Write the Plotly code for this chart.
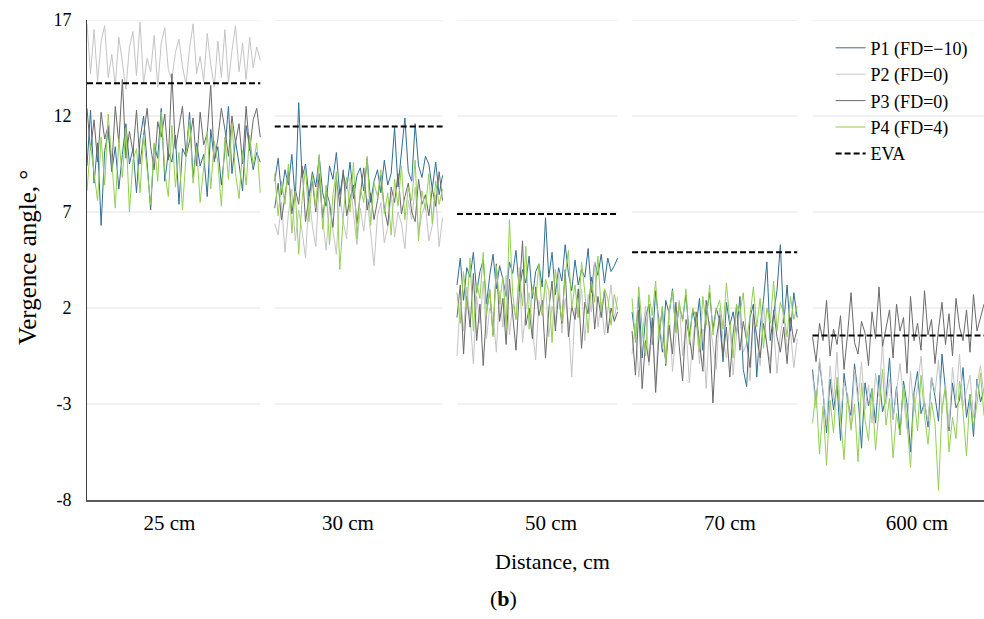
import plotly.graph_objects as go

categories = ["25 cm", "30 cm", "50 cm", "70 cm", "600 cm"]
y_ticks = [-8, -3, 2, 7, 12, 17]
y_tick_text = ["-8", "-3", "2", "7", "12", "17"]
eva = [13.7, 11.45, 6.9, 4.9, 0.57]

# P1 (FD=-10)
p1_25 = [9.4,12.3,8.5,10.6,6.3,10.2,11.2,9.1,10.4,8.2,10.0,11.6,9.5,10.3,8.0,10.8,12.0,9.3,7.1,10.5,9.8,12.4,8.6,10.1,9.6,11.0,7.4,10.3,9.9,12.2,8.8,10.6,9.4,10.0,7.8,11.3,9.7,10.4,8.4,10.2,12.5,9.0,10.7,9.5,8.1,11.5,10.3,9.2,10.1,9.6]
p1_30 = [8.6,9.8,7.9,9.2,8.4,10.0,7.6,12.7,8.8,9.5,7.8,9.1,8.3,9.9,8.0,7.3,9.4,8.7,10.1,7.9,9.0,8.2,9.6,7.7,8.9,9.3,8.1,9.8,7.5,8.6,9.2,8.0,9.7,8.4,9.0,11.4,8.3,10.0,11.9,9.1,8.6,11.6,9.4,8.8,9.9,9.5,8.2,9.6,7.9,8.9]
p1_50 = [3.2,4.6,2.4,4.1,3.6,4.9,2.8,3.9,4.5,2.2,3.7,4.8,3.0,4.2,3.5,2.6,4.4,3.8,5.0,2.9,4.0,3.3,4.7,2.5,3.9,4.3,3.1,6.7,3.6,4.9,2.7,4.1,3.4,5.3,3.8,2.9,4.5,3.2,4.0,3.6,5.1,2.8,4.4,3.7,4.8,3.3,4.6,3.9,4.2,4.6]
p1_70 = [1.8,0.4,2.6,-0.6,1.5,2.2,0.1,2.9,1.2,-0.3,2.4,1.7,3.0,0.8,2.1,1.4,2.7,0.5,1.9,1.0,2.5,-0.2,1.6,2.8,0.9,2.0,1.3,-0.8,2.3,1.1,1.8,0.6,2.6,-1.2,-2.1,1.5,2.2,-1.6,1.0,2.4,4.4,0.3,1.7,2.9,5.3,1.2,3.2,0.7,2.8,1.5]
p1_600 = [-1.2,-3.0,-0.8,-2.4,-4.5,-1.7,-3.3,-2.0,-4.9,-1.4,-2.8,-3.6,-0.9,-2.5,-5.3,-1.9,-3.1,-2.2,-4.0,-1.5,-3.4,-2.7,-0.6,-3.8,-2.1,-4.6,-1.8,-3.0,-5.5,-2.4,-1.3,-3.5,-2.9,-4.2,-1.6,-2.6,-3.9,-0.4,-2.3,-4.4,-1.9,-3.2,-2.8,-1.1,-3.7,-2.5,-4.7,-1.7,-2.9,-2.2]

# P2 (FD=0)
p2_25 = [16.8,14.2,16.5,13.8,15.9,16.7,14.0,15.2,13.6,16.1,14.8,13.4,15.6,16.4,14.1,16.9,13.7,15.0,14.3,16.2,13.5,15.8,16.6,14.4,13.9,15.3,16.0,14.6,13.6,15.5,16.8,14.2,15.1,13.8,16.3,14.7,13.5,15.9,14.0,16.5,13.7,15.4,16.7,14.3,15.8,13.9,16.1,14.5,15.6,14.9]
p2_30 = [6.4,5.8,7.5,4.9,6.9,8.2,5.5,7.1,6.0,4.6,7.8,6.3,5.2,8.5,6.7,5.0,7.3,6.1,4.8,7.9,6.5,5.6,8.8,6.9,5.3,7.2,6.0,7.7,5.9,4.2,6.8,7.5,5.4,6.2,8.0,5.7,7.0,6.4,5.1,7.6,6.6,8.3,5.8,6.9,7.4,5.5,6.3,7.9,5.2,6.7]
p2_50 = [-0.5,2.3,0.8,3.1,1.5,-0.9,2.6,1.2,3.4,0.4,2.0,1.7,-0.3,2.9,1.0,3.7,0.6,2.2,1.4,4.1,0.2,1.9,2.8,0.9,-0.7,2.4,1.6,3.3,0.5,2.1,1.1,3.9,0.7,2.5,1.3,-1.6,2.0,1.5,3.0,0.3,2.7,1.8,4.4,1.0,2.3,0.6,1.9,3.2,1.4,2.6]
p2_70 = [-0.4,1.2,-1.6,0.5,2.1,-1.0,0.8,-2.0,1.5,0.0,-0.7,1.9,-1.3,0.6,2.4,-0.5,1.0,-1.9,0.3,1.6,-0.9,0.9,-2.2,1.3,0.1,-1.2,2.0,0.4,-0.6,1.1,-1.5,0.7,1.8,-0.3,0.2,-1.8,1.4,0.5,-1.0,2.2,0.0,-0.8,1.0,-1.4,0.6,1.7,-0.2,0.8,-1.1,0.4]
p2_600 = [-1.5,-3.2,-0.6,-2.4,-4.1,-1.0,-2.8,-0.3,-3.6,-1.9,-2.5,-4.4,-1.2,-2.9,-0.8,-3.3,-2.0,-4.0,-1.4,-2.6,0.2,-3.0,-1.7,-3.8,-2.2,-0.9,-2.7,-4.3,-1.3,-3.4,-2.1,-0.5,-2.9,-3.9,-1.6,-2.4,-0.7,-3.5,-1.9,-4.2,-1.1,-2.8,-0.4,-3.1,-2.3,-1.5,-3.7,-2.0,-1.0,-2.6]

# P3 (FD=0)
p3_25 = [12.4,10.2,11.8,9.6,12.2,10.8,11.5,9.3,12.5,10.6,13.9,9.8,11.2,10.1,12.3,9.5,11.0,12.4,10.4,9.2,11.7,10.9,12.1,9.7,14.2,10.3,11.4,12.5,9.9,10.7,11.9,9.4,12.2,10.5,11.1,13.6,9.6,10.8,12.4,11.3,9.9,12.0,10.6,11.6,9.5,12.5,10.2,11.8,12.4,10.9]
p3_30 = [7.2,8.5,6.6,7.9,9.1,6.9,8.2,7.4,9.4,6.5,7.8,8.6,7.0,9.0,6.7,8.1,7.5,6.2,8.8,7.3,9.2,6.8,7.7,8.4,6.4,7.9,9.3,7.1,8.0,6.6,7.6,8.9,7.2,6.3,8.3,7.5,9.0,6.9,7.8,8.5,7.0,6.5,8.7,7.4,7.9,6.8,8.2,7.3,9.1,7.6]
p3_50 = [1.5,3.2,-0.4,2.6,1.0,3.8,0.3,2.2,-1.0,1.8,2.9,0.6,4.3,1.3,2.5,0.1,3.5,1.7,-0.2,2.8,5.5,1.1,2.0,0.4,3.1,1.6,2.4,-0.6,1.9,3.4,0.8,2.7,1.2,4.0,0.5,2.1,1.4,3.0,-0.1,2.3,1.7,3.6,0.9,2.6,1.5,2.9,0.7,2.0,1.3,1.8]
p3_70 = [0.8,-1.5,1.9,-2.2,0.3,-0.8,1.5,-2.4,0.6,2.0,-1.0,1.1,-0.4,2.3,0.0,-1.8,1.4,0.5,-0.7,1.8,0.2,-1.3,2.4,0.9,-2.95,0.4,1.6,-0.5,1.0,-1.6,0.7,2.1,-0.2,1.3,0.3,-1.1,1.7,0.6,-0.6,1.2,0.1,-1.4,1.9,0.5,-0.3,1.0,-0.9,1.5,0.2,0.9]
p3_600 = [0.5,-0.8,1.2,0.3,2.4,-0.5,0.9,0.1,1.6,-1.2,0.6,2.8,0.2,-0.4,1.3,0.7,-1.0,1.8,0.4,3.1,0.0,1.0,1.9,-0.6,2.2,0.8,1.5,-1.4,2.6,0.3,1.2,-0.2,2.9,0.6,1.4,-0.9,0.9,2.3,0.1,1.7,-0.5,2.5,1.0,0.3,1.9,-0.3,2.7,0.8,1.5,2.2]

# P4 (FD=4)
p4_25 = [8.1,10.5,9.0,7.6,10.9,8.4,12.1,9.5,7.2,10.8,8.8,11.4,7.0,9.7,10.3,8.0,11.0,9.2,7.4,10.6,8.6,12.2,9.1,7.8,11.5,8.3,10.1,7.1,9.9,11.8,8.5,10.4,7.5,9.3,11.2,8.2,10.7,9.6,7.3,10.9,8.7,11.6,9.0,7.7,10.2,8.4,11.0,9.4,10.6,8.0]
p4_30 = [9.0,6.8,8.6,7.4,9.5,5.9,8.1,4.8,7.7,9.3,6.5,8.9,7.2,10.0,6.1,8.4,5.3,7.9,9.1,4.0,6.7,8.8,7.0,9.6,5.6,8.2,7.5,9.9,6.3,8.5,7.8,9.2,6.9,8.0,5.8,8.7,7.3,9.4,6.6,8.3,7.6,9.7,5.5,8.1,7.1,9.0,6.4,8.6,7.4,8.2]
p4_50 = [2.8,1.2,3.9,2.0,4.6,0.8,3.3,2.5,4.9,1.6,3.0,0.5,4.2,2.2,3.6,1.0,6.6,2.7,1.4,3.8,2.1,5.2,0.9,3.1,2.4,4.3,1.7,3.5,2.9,0.2,4.0,2.6,1.3,3.7,5.0,2.0,3.2,1.5,4.4,2.8,0.7,3.4,2.3,4.7,1.8,3.0,2.5,1.1,2.7,1.9]
p4_70 = [2.5,0.2,3.1,1.0,-0.5,2.7,1.6,3.4,0.4,2.1,-0.9,1.8,2.9,0.7,2.3,1.3,3.0,0.1,2.0,1.5,-0.3,2.6,1.1,3.2,0.6,1.9,2.4,0.9,3.3,1.4,-0.6,2.2,1.7,2.8,0.3,1.6,3.1,1.0,2.5,-0.1,2.0,1.2,3.4,0.8,2.3,1.7,0.5,2.6,1.4,2.1]
p4_600 = [-4.0,-2.3,-5.6,-3.1,-6.2,-2.8,-4.5,-1.6,-3.7,-5.9,-2.5,-4.3,-3.0,-6.0,-1.9,-3.8,-4.9,-2.2,-5.4,-3.3,-1.2,-4.1,-2.7,-5.8,-3.5,-4.6,-2.0,-3.9,-6.3,-2.6,-4.4,-1.5,-3.6,-5.1,-2.9,-4.0,-7.5,-3.2,-2.1,-5.5,-3.7,-4.8,-1.8,-3.4,-5.7,-2.5,-4.2,-3.0,-1.4,-3.6]

series = [
    ("P1 (FD=\u221210)", [p1_25, p1_30, p1_50, p1_70, p1_600], "#2f6f94"),
    ("P2 (FD=0)", [p2_25, p2_30, p2_50, p2_70, p2_600], "#c4c4c4"),
    ("P3 (FD=0)", [p3_25, p3_30, p3_50, p3_70, p3_600], "#6a6a6a"),
    ("P4 (FD=4)", [p4_25, p4_30, p4_50, p4_70, p4_600], "#92d050"),
]

# layout: extent of each distance block along the x axis, and label spots
SEG_START = [0.0, 1.04, 2.05, 3.02, 4.02]
SEG_END = [0.96, 1.97, 2.94, 3.935, 4.97]
LABEL_POS = [0.457, 1.446, 2.571, 3.562, 4.598]
FONT = "Liberation Serif, Times New Roman, serif"


def build(segments):
    xs, ys = [], []
    for k, seg in enumerate(segments):
        n = len(seg)
        a, b = SEG_START[k], SEG_END[k]
        for i, v in enumerate(seg):
            xs.append(a + (b - a) * i / (n - 1))
            ys.append(v)
        xs.append(None)
        ys.append(None)
    return xs, ys


fig = go.Figure()
for name, segs, color in series:
    xs, ys = build(segs)
    fig.add_trace(go.Scatter(x=xs, y=ys, mode="lines", name=name,
                             line=dict(color=color, width=1)))

ex, ey = [], []
for k, v in enumerate(eva):
    ex += [SEG_START[k], SEG_END[k], None]
    ey += [v, v, None]
fig.add_trace(go.Scatter(x=ex, y=ey, mode="lines", name="EVA",
                         line=dict(color="black", width=2, dash="6px,3px")))

# gridlines only beneath each block
for k in range(len(categories)):
    for t in y_ticks[1:]:
        fig.add_shape(type="line", xref="x", yref="y",
                      x0=SEG_START[k], x1=SEG_END[k], y0=t, y1=t,
                      layer="below", line=dict(color="#e3e3e3", width=1))

fig.update_layout(
    width=984, height=619,
    margin=dict(l=87, r=0, t=20, b=119),
    paper_bgcolor="white", plot_bgcolor="white",
    font=dict(family=FONT, size=18, color="black"),
    showlegend=True,
    legend=dict(x=0.829, y=0.98, xanchor="left", yanchor="top",
                bgcolor="rgba(0,0,0,0)", font=dict(size=18, family=FONT),
                tracegroupgap=0),
    xaxis=dict(range=[0, 4.97], showgrid=False, zeroline=False,
               tickmode="array", tickvals=LABEL_POS, ticktext=categories,
               ticks="", showline=True, linecolor="#5a5a5a", linewidth=1.5,
               tickfont=dict(size=21, family=FONT), ticklabelstandoff=3),
    yaxis=dict(range=[-8, 17], tickmode="array", tickvals=y_ticks,
               ticktext=y_tick_text,
               showgrid=False, zeroline=False, ticks="", showline=True,
               linecolor="#404040", linewidth=1,
               tickfont=dict(size=18, family=FONT), ticklabelstandoff=11),
)

fig.add_annotation(text="Vergence angle, \u00b0", xref="paper", yref="paper",
                   x=-0.0669, y=0.506, xanchor="center", yanchor="middle",
                   textangle=-90, showarrow=False,
                   font=dict(size=25, family=FONT))
fig.add_annotation(text="Distance, cm", xref="paper", yref="paper",
                   x=0.5195, y=-0.129, xanchor="center", yanchor="middle",
                   showarrow=False, font=dict(size=22, family=FONT))
fig.add_annotation(text="(<b>b</b>)", xref="paper", yref="paper",
                   x=0.4638, y=-0.206, xanchor="center", yanchor="middle",
                   showarrow=False, font=dict(size=22, family=FONT))

fig.write_html("out.html", config={"displayModeBar": False},
               post_script="document.body.style.margin='0';document.body.style.overflow='hidden';")
